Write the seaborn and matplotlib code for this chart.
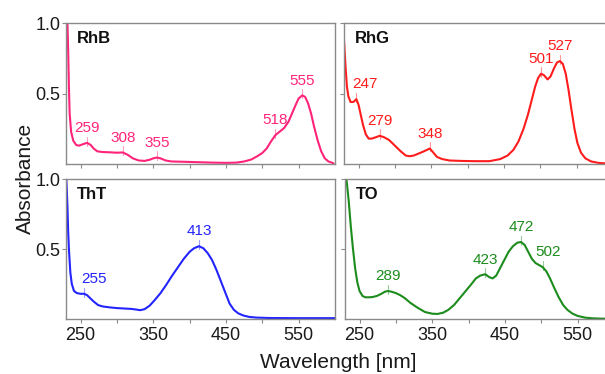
import numpy as np
import pandas as pd
import matplotlib
matplotlib.use("Agg")
import matplotlib.pyplot as plt
import seaborn as sns

# Spectra (wavelength in nm, absorbance)
rhb_wl = [232, 233, 234, 235, 237, 240, 244, 248, 253, 259, 264, 268, 273, 280, 290, 300, 308,
          315, 322, 330, 338, 345, 350, 355, 360, 367, 375, 390, 410, 430, 450, 465, 475, 485,
          493, 500, 506, 512, 518, 524, 530, 536, 541, 546, 550, 555, 559, 563, 567, 571, 576,
          581, 586, 591, 598]
rhb_abs = [1.0, 0.8, 0.55, 0.36, 0.23, 0.165, 0.135, 0.13, 0.14, 0.15, 0.135, 0.11, 0.09, 0.085,
           0.083, 0.08, 0.082, 0.065, 0.04, 0.025, 0.022, 0.03, 0.04, 0.046, 0.04, 0.025, 0.018,
           0.016, 0.013, 0.01, 0.008, 0.01, 0.018, 0.032, 0.055, 0.078, 0.11, 0.16, 0.205, 0.23,
           0.255, 0.3, 0.36, 0.42, 0.465, 0.487, 0.475, 0.43, 0.36, 0.27, 0.17, 0.09, 0.04, 0.018,
           0.005]

rhg_wl = [230, 232, 234, 236, 239, 243, 247, 250, 253, 256, 260, 264, 268, 274, 279, 285, 292,
          300, 308, 315, 320, 326, 333, 340, 348, 353, 358, 365, 375, 390, 410, 430, 445, 455,
          463, 470, 477, 483, 488, 493, 497, 501, 505, 510, 514, 519, 523, 527, 531, 535, 539,
          543, 547, 551, 556, 562, 570, 580, 590, 600]
rhg_abs = [0.88, 0.7, 0.55, 0.48, 0.44, 0.44, 0.46, 0.42, 0.35, 0.28, 0.21, 0.18, 0.18, 0.19,
           0.2, 0.19, 0.17, 0.13, 0.09, 0.06, 0.055, 0.06, 0.075, 0.09, 0.11, 0.08, 0.05, 0.035,
           0.025, 0.022, 0.02, 0.02, 0.035, 0.06, 0.1, 0.16, 0.25, 0.35, 0.45, 0.55, 0.61, 0.64,
           0.63, 0.6, 0.62, 0.68, 0.72, 0.73, 0.71, 0.64, 0.52, 0.38, 0.25, 0.15, 0.08, 0.04,
           0.018, 0.008, 0.004, 0.003]

tht_wl = [230, 231, 232, 233, 234, 236, 238, 241, 245, 250, 255, 259, 263, 268, 274, 280, 290,
          300, 310, 320, 326, 332, 338, 345, 352, 360, 368, 376, 384, 392, 400, 406, 413, 419,
          425, 431, 437, 443, 449, 455, 461, 467, 474, 482, 492, 510, 550, 600]
tht_abs = [1.05, 0.93, 0.8, 0.62, 0.5, 0.33, 0.25, 0.2, 0.185, 0.18, 0.18, 0.17, 0.15, 0.125,
           0.1, 0.09, 0.083, 0.078, 0.075, 0.072, 0.068, 0.063, 0.07, 0.095, 0.135, 0.185, 0.245,
           0.31, 0.37, 0.43, 0.48, 0.505, 0.52, 0.505, 0.47, 0.42, 0.35, 0.27, 0.19, 0.11, 0.065,
           0.04, 0.025, 0.015, 0.01, 0.007, 0.006, 0.006]

to_wl = [232, 235, 238, 241, 244, 247, 250, 254, 258, 263, 268, 274, 280, 285, 289, 294, 300,
         306, 312, 320, 330, 340, 350, 357, 365, 372, 380, 388, 396, 404, 410, 416, 423, 428,
         433, 438, 443, 449, 455, 461, 467, 472, 477, 482, 487, 492, 497, 502, 507, 512, 518,
         524, 530, 536, 543, 550, 560, 570, 580, 590, 600]
to_abs = [1.0, 0.85, 0.66, 0.5, 0.36, 0.26, 0.2, 0.165, 0.155, 0.155, 0.157, 0.165, 0.18, 0.195,
          0.2, 0.195, 0.185, 0.17, 0.15, 0.115, 0.08, 0.05, 0.038, 0.036, 0.045, 0.065, 0.1,
          0.15, 0.2, 0.25, 0.29, 0.31, 0.32, 0.3, 0.29, 0.31, 0.36, 0.42, 0.48, 0.52, 0.545,
          0.55, 0.53, 0.48, 0.43, 0.4, 0.385, 0.37, 0.34, 0.29, 0.22, 0.155, 0.1, 0.065, 0.038,
          0.022, 0.01, 0.005, 0.003, 0.002, 0.002]

# Labelled peaks
rhb_peaks = [259, 308, 355, 518, 555]
rhg_peaks = [247, 279, 348, 501, 527]
tht_peaks = [255, 413]
to_peaks = [289, 423, 472, 502]

dye_names = ["RhB", "RhG", "ThT", "TO"]
x_ticks = [250, 300, 350, 400, 450, 500, 550]
x_ticklabels = ["250", "", "350", "", "450", "", "550"]

# Styling
colors = {"RhB": "#ff2479", "RhG": "#ff1c1c", "ThT": "#2424ff", "TO": "#1c8c1c"}
label_dx = {("RhG", 247): 12, ("ThT", 255): 13, ("TO", 502): 8}
spine_gray = "#8a8a8a"

sns.set_theme(style="ticks")
plt.rcParams["font.family"] = ["Liberation Sans", "DejaVu Sans"]

W, H = 605, 374
fig = plt.figure(figsize=(W / 100, H / 100), dpi=100)


def px_axes(left, top, right, bottom):
    return fig.add_axes([left / W, 1 - bottom / H, (right - left) / W, (bottom - top) / H])


axes = {
    "RhB": px_axes(66, 23, 335, 164),
    "RhG": px_axes(344, 23, 613, 164),
    "ThT": px_axes(66, 179, 335, 319),
    "TO": px_axes(345, 179, 614, 319),
}
spectra = {
    "RhB": (rhb_wl, rhb_abs, rhb_peaks),
    "RhG": (rhg_wl, rhg_abs, rhg_peaks),
    "ThT": (tht_wl, tht_abs, tht_peaks),
    "TO": (to_wl, to_abs, to_peaks),
}

for name in dye_names:
    ax = axes[name]
    wl, ab, peaks = spectra[name]
    df = pd.DataFrame({"wavelength": wl, "absorbance": ab})
    c = colors[name]
    sns.lineplot(data=df, x="wavelength", y="absorbance", color=c, lw=1.5, ax=ax)

    for p in peaks:
        yp = np.interp(p, wl, ab)
        ax.plot([p, p], [yp - 0.02, yp + 0.045], color=c, lw=0.8, alpha=0.45)
        ax.text(p + label_dx.get((name, p), 0), yp + 0.055, str(p), color=c,
                fontsize=11, ha="center", va="bottom")

    ax.text(0.041, 0.89, name, transform=ax.transAxes, fontsize=12,
            fontweight="bold", va="center", ha="left", color="#111111")

    ax.set_xlim(230, 600)
    ax.set_ylim(0, 1.0)
    ax.set_xlabel("")
    ax.set_ylabel("")
    ax.set_xticks(x_ticks)
    ax.set_yticks([0.5, 1.0])
    if name in ("ThT", "TO"):
        ax.set_xticklabels(x_ticklabels)
    else:
        ax.set_xticklabels([])
    if name in ("RhB", "ThT"):
        ax.set_yticklabels(["0.5", "1.0"])
    else:
        ax.set_yticklabels([])
    for sp in ax.spines.values():
        sp.set_visible(True)
        sp.set_color(spine_gray)
        sp.set_linewidth(1.0)
    ax.tick_params(axis="both", direction="out", length=3, width=0.8,
                   color=spine_gray, labelsize=13, labelcolor="#1a1a1a")
    ax.tick_params(axis="y", pad=1)
    ax.tick_params(axis="x", pad=3)

fig.text(25 / W, 1 - 178 / H, "Absorbance", rotation=90, fontsize=15,
         ha="center", va="center", color="#1a1a1a")
fig.text(338 / W, 1 - 362 / H, "Wavelength [nm]", fontsize=15,
         ha="center", va="center", color="#1a1a1a")

fig.savefig("out.png", dpi=100)
